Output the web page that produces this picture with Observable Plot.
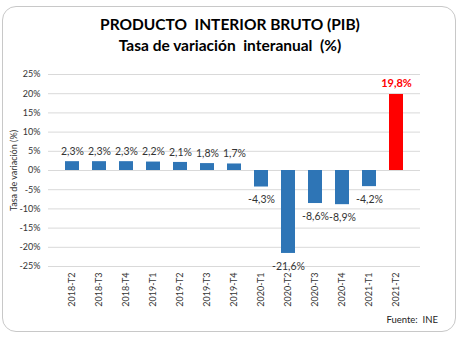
<!DOCTYPE html>
<html>
<head>
<meta charset="utf-8">
<script src="https://cdn.jsdelivr.net/npm/d3@7"></script>
<script src="https://cdn.jsdelivr.net/npm/@observablehq/plot@0.6"></script>
<style>
  html, body { margin: 0; padding: 0; background: #fff; }
  body { width: 460px; height: 340px; position: relative; overflow: hidden; font-family: Lato, "Open Sans", sans-serif; }
  #card { position: absolute; left: 2px; top: 6px; width: 454px; height: 326px; border: 1px solid #c8c8c8; border-radius: 14px; box-sizing: border-box; }
  .title { position: absolute; left: 0; width: 460px; text-align: center; font-weight: bold; font-size: 15.5px; color: #000; white-space: pre; }
  #chart { position: absolute; left: 0; top: 58px; }
  #source { position: absolute; right: 22px; top: 314px; font-size: 9.5px; color: #222; white-space: pre; }
</style>
</head>
<body>
<div id="card"></div>
<div class="title" style="top:15px">PRODUCTO  INTERIOR BRUTO (PIB)</div>
<div class="title" style="top:36px">Tasa de variación  interanual  (%)</div>
<div id="chart"></div>
<div id="source">Fuente:  INE</div>
<script>
const periods = ["2018-T2","2018-T3","2018-T4","2019-T1","2019-T2","2019-T3","2019-T4","2020-T1","2020-T2","2020-T3","2020-T4","2021-T1","2021-T2"];
const values = [2.3, 2.3, 2.3, 2.2, 2.1, 1.8, 1.7, -4.3, -21.6, -8.6, -8.9, -4.2, 19.8];
const yTicks = [-25, -20, -15, -10, -5, 0, 5, 10, 15, 20, 25];

const data = periods.map((p, i) => ({period: p, value: values[i], last: i === periods.length - 1}));
const fmt = v => v.toFixed(1).replace(".", ",") + "%";

const chart = Plot.plot({
  width: 460,
  height: 252,
  marginLeft: 48,
  marginRight: 40,
  marginTop: 16,
  marginBottom: 44,
  style: {fontFamily: "Lato, 'Open Sans', sans-serif", background: "transparent"},
  x: {domain: periods, padding: 0.47},
  y: {domain: [-25, 25]},
  marks: [
    Plot.gridY(yTicks, {stroke: "#d9d9d9", strokeOpacity: 1}),
    Plot.barY(data, {x: "period", y: "value", fill: d => d.last ? "#ff0000" : "#2e75b6"}),
    Plot.text(data.filter(d => !d.last && d.value >= 0), {x: "period", y: "value", text: d => fmt(d.value), dy: -10, fontSize: 10.5, fill: "#333"}),
    Plot.text(data.filter(d => !d.last && d.value < 0), {x: "period", y: "value", text: d => fmt(d.value), dy: 13, fontSize: 10.5, fill: "#333"}),
    Plot.text(data.filter(d => d.last), {x: "period", y: "value", text: d => fmt(d.value), dy: -11, fontSize: 11, fontWeight: "bold", fill: "#ff0000"}),
    Plot.axisX({tickRotate: -90, tickSize: 0, tickPadding: 6, fontSize: 9, label: null, color: "#333"}),
    Plot.axisY(yTicks, {tickSize: 0, tickPadding: 8, fontSize: 9, tickFormat: d => d + "%", label: "Tasa de variación (%)", labelAnchor: "center", labelArrow: "none", labelOffset: 38, color: "#333"})
  ]
});
document.getElementById("chart").appendChild(chart);
</script>
</body>
</html>
